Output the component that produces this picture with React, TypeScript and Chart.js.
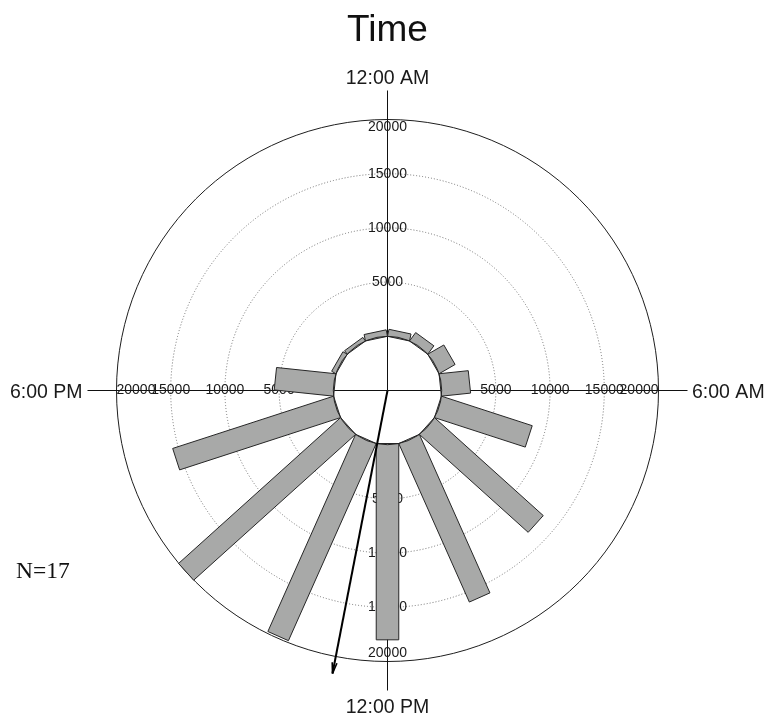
import React, { useEffect, useRef } from 'react';
import { Chart, registerables } from 'chart.js';

Chart.register(...registerables);

// Circular histogram of time of day: 24 h mapped onto 360°, clockwise from midnight.
// Bin centres in degrees (15 bins of 24° = 1.6 h each).
const binCentersDeg = [12, 36, 60, 84, 108, 132, 156, 180, 204, 228, 252, 276, 300, 324, 348];
const binValues = [550, 850, 1600, 2600, 8700, 13400, 15900, 18000, 19800, 20000, 15500, 5400, 350, 300, 500];
const binWidthDeg = 24;

// Radial ring ticks and the clock labels on the four axes.
const ringTicks = [5000, 10000, 15000, 20000];
const clockLabels = ['12:00 AM', '6:00 AM', '12:00 PM', '6:00 PM'];
const clockAnglesDeg = [0, 90, 180, 270];

// Mean vector (direction and length on the radial scale) and sample size.
const meanAngleDeg = 191;
const meanVectorValue = 21600;
const sampleCount = 17;
const titleText = 'Time';

// Layout
const W = 776;
const H = 716;
const CENTER_X = 387.5;
const CENTER_Y = 390.5;
const OUTER_RADIUS_PX = 271;
const AXIS_RADIUS_PX = 300;
const HOLE = 5000; // radial offset of the empty inner circle, in value units
const R_MAX = HOLE + ringTicks[ringTicks.length - 1];
const PX_PER_UNIT = OUTER_RADIUS_PX / R_MAX;
const AXIS_R = AXIS_RADIUS_PX / PX_PER_UNIT;

const SANS = '"Liberation Sans", Arial, Helvetica, sans-serif';
const SERIF = '"Liberation Serif", "Times New Roman", serif';

const toRad = (d: number) => (d * Math.PI) / 180;

const polarPlugin = {
  id: 'polarHistogram',
  afterDraw(chart: any) {
    const { ctx } = chart;
    const xs = chart.scales.x;
    const ys = chart.scales.y;
    const cx = xs.getPixelForValue(0);
    const cy = ys.getPixelForValue(0);
    const radPx = (R: number) => xs.getPixelForValue(R) - cx;
    // polar (R along direction deg, clockwise from top, plus a sideways offset) -> pixel, via the scales
    const pt = (R: number, deg: number, side = 0, sideDeg = 0): [number, number] => {
      const a = toRad(deg);
      const b = toRad(sideDeg);
      const x = R * Math.sin(a) + side * Math.cos(b);
      const y = R * Math.cos(a) - side * Math.sin(b);
      return [xs.getPixelForValue(x), ys.getPixelForValue(y)];
    };

    ctx.save();

    // dotted rings
    ctx.lineWidth = 1;
    ctx.strokeStyle = '#707070';
    ctx.setLineDash([1, 2]);
    ringTicks.slice(0, -1).forEach((t) => {
      ctx.beginPath();
      ctx.arc(cx, cy, radPx(HOLE + t), 0, Math.PI * 2);
      ctx.stroke();
    });
    ctx.setLineDash([]);

    // outer ring
    ctx.strokeStyle = '#1e1e1e';
    ctx.beginPath();
    ctx.arc(cx, cy, radPx(R_MAX), 0, Math.PI * 2);
    ctx.stroke();

    // axis lines
    ctx.strokeStyle = '#111';
    const seg = (a: [number, number], b: [number, number]) => {
      ctx.beginPath();
      ctx.moveTo(a[0], a[1]);
      ctx.lineTo(b[0], b[1]);
      ctx.stroke();
    };
    seg(pt(AXIS_R, 270), pt(AXIS_R, 90));
    seg(pt(AXIS_R, 0), [cx, cy]);
    seg(pt(HOLE, 180), pt(AXIS_R, 180));

    // ring tick labels along the four axes
    ctx.font = `14px ${SANS}`;
    ctx.fillStyle = '#1a1a1a';
    ctx.textBaseline = 'middle';
    clockAnglesDeg.forEach((deg) => {
      ringTicks.forEach((t, i) => {
        const last = i === ringTicks.length - 1;
        let [x, y] = pt(HOLE + t, deg);
        const label = String(t);
        ctx.textAlign = 'center';
        if (last) {
          if (deg === 0) y += 8;
          else if (deg === 180) y -= 8;
          else if (deg === 90) ctx.textAlign = 'right';
          else ctx.textAlign = 'left';
        }
        ctx.fillText(label, x, y);
      });
    });

    // bars: rectangles standing on the chord of each bin on the inner circle
    const half = binWidthDeg / 2;
    const w = HOLE * Math.sin(toRad(half));
    const d1 = HOLE * Math.cos(toRad(half));
    ctx.fillStyle = '#a8a9a8';
    ctx.strokeStyle = '#262626';
    ctx.lineWidth = 1;
    binCentersDeg.forEach((deg, i) => {
      const d2 = HOLE + binValues[i];
      const c = [pt(d1, deg, w, deg), pt(d2, deg, w, deg), pt(d2, deg, -w, deg), pt(d1, deg, -w, deg)];
      ctx.beginPath();
      ctx.moveTo(c[0][0], c[0][1]);
      for (let k = 1; k < 4; k++) ctx.lineTo(c[k][0], c[k][1]);
      ctx.closePath();
      ctx.fill();
      ctx.stroke();
    });

    // inner circle
    ctx.strokeStyle = '#222';
    ctx.beginPath();
    ctx.arc(cx, cy, radPx(HOLE), 0, Math.PI * 2);
    ctx.stroke();

    // mean vector arrow
    const tip = pt(HOLE + meanVectorValue, meanAngleDeg);
    ctx.strokeStyle = '#000';
    ctx.lineWidth = 2;
    seg([cx, cy], tip);
    const ang = Math.atan2(tip[1] - cy, tip[0] - cx);
    const headLen = 11;
    const headW = 2.4;
    ctx.lineWidth = 1.6;
    [1, -1].forEach((s) => {
      const bx = tip[0] - headLen * Math.cos(ang) + s * headW * Math.cos(ang + Math.PI / 2);
      const by = tip[1] - headLen * Math.sin(ang) + s * headW * Math.sin(ang + Math.PI / 2);
      seg(tip, [bx, by]);
    });

    // clock labels
    ctx.font = `19.5px ${SANS}`;
    ctx.fillStyle = '#1a1a1a';
    ctx.textBaseline = 'alphabetic';
    clockAnglesDeg.forEach((deg, i) => {
      const [x, y] = pt(AXIS_R, deg);
      const label = clockLabels[i];
      if (deg === 0) {
        ctx.textAlign = 'center';
        ctx.fillText(label, x, y - 7);
      } else if (deg === 180) {
        ctx.textAlign = 'center';
        ctx.fillText(label, x, y + 22);
      } else if (deg === 90) {
        ctx.textAlign = 'left';
        ctx.fillText(label, x + 4.5, y + 7);
      } else {
        ctx.textAlign = 'right';
        ctx.fillText(label, x - 5, y + 7);
      }
    });

    // title
    ctx.font = `37px ${SANS}`;
    ctx.textAlign = 'center';
    ctx.fillStyle = '#111';
    ctx.fillText(titleText, cx, 41);

    // sample size
    ctx.font = `23.5px ${SERIF}`;
    ctx.textAlign = 'left';
    ctx.fillText(`N=${sampleCount}`, 16, 578);

    ctx.restore();
  },
};

export default function App() {
  const canvasRef = useRef<HTMLCanvasElement | null>(null);

  useEffect(() => {
    const canvas = canvasRef.current;
    if (!canvas) return;
    const chart = new Chart(canvas, {
      type: 'scatter',
      data: { datasets: [{ data: [], pointRadius: 0 }] },
      options: {
        responsive: false,
        animation: false,
        events: [],
        layout: { padding: 0 },
        plugins: {
          legend: { display: false },
          tooltip: { enabled: false },
        },
        scales: {
          x: {
            type: 'linear',
            display: false,
            min: -CENTER_X / PX_PER_UNIT,
            max: (W - CENTER_X) / PX_PER_UNIT,
          },
          y: {
            type: 'linear',
            display: false,
            min: -(H - CENTER_Y) / PX_PER_UNIT,
            max: CENTER_Y / PX_PER_UNIT,
          },
        },
      },
      plugins: [polarPlugin],
    });
    return () => chart.destroy();
  }, []);

  return (
    <div style={{ position: 'absolute', left: 0, top: 0, width: W, height: H, background: '#fff' }}>
      <canvas ref={canvasRef} width={W} height={H} style={{ display: 'block' }} />
    </div>
  );
}
